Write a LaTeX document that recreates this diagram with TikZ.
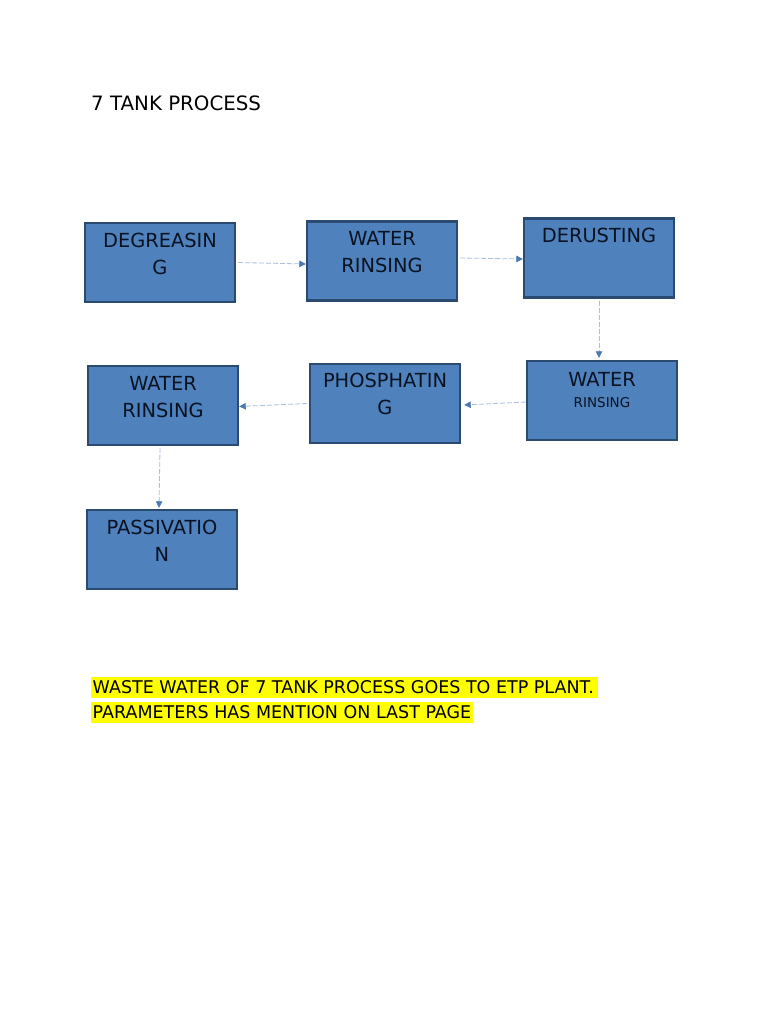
\documentclass[tikz,border=0pt]{standalone}
\usepackage{fontspec}
\setmainfont{DejaVu Sans}
\usetikzlibrary{arrows.meta}
\definecolor{boxfill}{HTML}{4F81BD}
\definecolor{boxline}{HTML}{2A4A70}
\definecolor{boxtextc}{HTML}{081220}
\definecolor{conline}{HTML}{A7C0DE}
\definecolor{conhead}{HTML}{4A78B0}
\definecolor{hilite}{HTML}{FFFF00}
\tikzset{
  tankbox/.style={draw=boxline, line width=2.4pt, fill=boxfill, minimum width=150pt, minimum height=79pt, inner sep=0pt},
  tanktext/.style={anchor=north, inner sep=0pt, align=center, text=boxtextc, font=\fontsize{19.4}{27}\selectfont},
  smalltext/.style={anchor=base, inner sep=0pt, text=boxtextc, font=\fontsize{13.5}{16}\selectfont},
  flow/.style={draw=conline, line width=0.8pt, dash pattern=on 5pt off 2pt, -{Triangle[length=6.5pt,width=6.5pt,color=conhead]}},
  hl/.style={anchor=base west, fill=hilite, inner xsep=1.5pt, inner ysep=0pt, text height=16.5pt, text depth=5pt, font=\fontsize{17.5}{22}\selectfont}
}
\begin{document}
\begin{tikzpicture}[x=1pt,y=-1pt]
\fill[white] (0,0) rectangle (768,1024);
\useasboundingbox (0,0) rectangle (768,1024);

\node[anchor=base west, inner sep=0pt, font=\fontsize{19.8}{24}\selectfont] (title) at (91,111) {7 TANK PROCESS};

\node[tankbox] (b1) at (160,262.5) {};
\node[tankbox] (b2) at (382,261) {};
\node[tankbox] (b3) at (599,258) {};
\node[tankbox] (b4) at (602,400.5) {};
\node[tankbox] (b5) at (385,403.5) {};
\node[tankbox] (b6) at (163,405.5) {};
\node[tankbox] (b7) at (162,549.5) {};

\node[tanktext] (t1) at ([yshift=-11pt]b1.north) {DEGREASIN\\G};
\node[tanktext] (t2) at ([yshift=-11pt]b2.north) {WATER\\RINSING};
\node[tanktext] (t3) at ([yshift=-11pt]b3.north) {DERUSTING};
\node[tanktext] (t4) at ([yshift=-12pt]b4.north) {WATER};
\node[smalltext] (t4b) at (602,407) {RINSING};
\node[tanktext] (t5) at ([yshift=-10pt]b5.north) {PHOSPHATIN\\G};
\node[tanktext] (t6) at ([yshift=-11pt]b6.north) {WATER\\RINSING};
\node[tanktext] (t7) at ([yshift=-11pt]b7.north) {PASSIVATIO\\N};

\draw[flow] ([xshift=2pt]b1.east) -- ([yshift=-3pt]b2.west);
\draw[flow] ([xshift=2pt,yshift=3pt]b2.east) -- ([yshift=-1pt]b3.west);
\draw[flow] ([yshift=-2pt]b3.south) -- ([yshift=2pt]b4.north -| b3.south);
\draw[flow] ([yshift=-1.5pt]b4.west) -- ([xshift=3pt,yshift=-1.5pt]b5.east);
\draw[flow] ([xshift=-2pt]b5.west) -- ([xshift=0pt,yshift=-1pt]b6.east);
\draw[flow] ([xshift=-3pt,yshift=-2pt]b6.south) -- ([xshift=-3pt,yshift=1pt]b7.north);

\node[hl] (w1) at (91,693) {WASTE WATER OF 7 TANK PROCESS GOES TO ETP PLANT.\,};
\node[hl] (w2) at (91,718) {PARAMETERS HAS MENTION ON LAST PAGE};
\end{tikzpicture}
\end{document}
